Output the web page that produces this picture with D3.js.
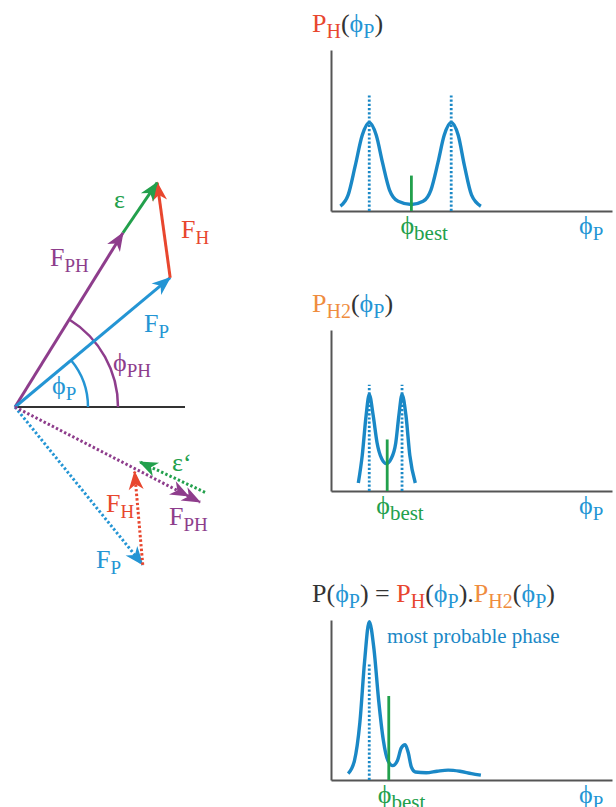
<!DOCTYPE html>
<html>
<head>
<meta charset="utf-8">
<script src="https://cdn.jsdelivr.net/npm/d3@7"></script>
<style>
  html, body { margin: 0; padding: 0; background: #fff; }
  svg { display: block; font-family: "Liberation Serif", "DejaVu Serif", serif; }
</style>
</head>
<body>
<div id="chart"></div>
<script>
// === DATA ===
// structure factor vectors (amplitude, phase in degrees): FP, FPH, FH
const vecNames = ["FP", "FPH", "FH"];
const upperAmp = [10.1, 10.25, 4.8];
const upperPhase = [39.8, 58.2, 97.8];
const lowerAmp = [10.15, 10.4, 4.67];
const lowerPhase = [-51, -27.2, 95];
const arcRadius = [3.65, 5.15]; // phi_P, phi_PH
const baselineLen = 8.5;
const epsOffset = 0.55;

// probability curves: [phase (deg), probability]
const curveH = [[12, 0.03], [22, 0.10], [31, 0.28], [40, 0.47], [49, 0.55], [58, 0.47], [66, 0.30],
  [75, 0.13], [86, 0.06], [103, 0.04], [118, 0.06], [128, 0.13], [137, 0.30], [145, 0.47],
  [154, 0.55], [163, 0.47], [171, 0.28], [180, 0.10], [192, 0.03]];
const curveH2 = [[35, 0.05], [40, 0.22], [45, 0.47], [49, 0.60], [54, 0.47], [59, 0.30], [65, 0.20],
  [71, 0.17], [77, 0.20], [83, 0.30], [87, 0.47], [91, 0.60], [96, 0.47], [101, 0.22], [108, 0.05]];
const curveP = [[22, 0.04], [30, 0.12], [37, 0.36], [43, 0.74], [49, 0.99], [55, 0.82], [61, 0.50],
  [67, 0.25], [73, 0.12], [79, 0.09], [85, 0.12], [90, 0.20], [95, 0.22], [99, 0.17], [103, 0.08],
  [108, 0.05], [122, 0.045], [136, 0.055], [150, 0.062], [165, 0.055], [180, 0.04], [192, 0.03]];

const peaksH = [49, 154], peaksH2 = [49, 91], peaksP = [49];
const peakLineH = [0.73, 0.66, 0.73];
const phiBest = [103, 72, 74];
const phiBestH = [0.22, 0.32, 0.525];

const C = { blue: "#2495d4", red: "#e8462e", purple: "#8e3d8c", green: "#22a04c",
  orange: "#ef8c3e", black: "#333", axis: "#555", curve: "#1a88c6" };

// title pieces: [text, colour, subscript]
const phi = "\u03D5";
const title1 = [["P", "red", 0], ["H", "red", 1], ["(", "black", 0], [phi, "blue", 0], ["P", "blue", 1], [")", "black", 0]];
const title2 = [["P", "orange", 0], ["H2", "orange", 1], ["(", "black", 0], [phi, "blue", 0], ["P", "blue", 1], [")", "black", 0]];
const title3 = [["P(", "black", 0], [phi, "blue", 0], ["P", "blue", 1], [") = ", "black", 0],
  ["P", "red", 0], ["H", "red", 1], ["(", "black", 0], [phi, "blue", 0], ["P", "blue", 1], [").", "black", 0],
  ["P", "orange", 0], ["H2", "orange", 1], ["(", "black", 0], [phi, "blue", 0], ["P", "blue", 1], [")", "black", 0]];

// === SVG ===
const width = 616, height = 807;
const svg = d3.select("#chart").append("svg").attr("width", width).attr("height", height);

const defs = svg.append("defs");
["blue", "red", "purple", "green"].forEach(c => {
  defs.append("marker")
    .attr("id", "arrow-" + c)
    .attr("markerUnits", "userSpaceOnUse")
    .attr("viewBox", "-20 -10 22 20")
    .attr("refX", 0).attr("refY", 0)
    .attr("markerWidth", 22).attr("markerHeight", 20)
    .attr("orient", "auto")
    .append("path")
    .attr("d", "M1,0 L-18,-7.5 L-12.5,0 L-18,7.5 Z")
    .attr("fill", C[c]);
});

// rich text helper (subscripts)
function richText(g, x, y, pieces, size, subSize) {
  const t = g.append("text").attr("x", x).attr("y", y).attr("font-size", size);
  let shifted = false;
  pieces.forEach(([s, col, sub]) => {
    const ts = t.append("tspan").text(s).attr("fill", C[col]);
    if (sub) {
      ts.attr("font-size", subSize);
      if (!shifted) ts.attr("dy", 6);
      shifted = true;
    } else if (shifted) {
      ts.attr("dy", -6);
      shifted = false;
    }
  });
  return t;
}

// === VECTOR DIAGRAM ===
const sx = d3.scaleLinear().domain([0, 10]).range([15, 215]);
const sy = d3.scaleLinear().domain([0, 10]).range([407, 207]);
const rad = d => d * Math.PI / 180;
const pol = (a, p) => [a * Math.cos(rad(p)), a * Math.sin(rad(p))];
const add = (u, v) => [u[0] + v[0], u[1] + v[1]];
const P = v => [sx(v[0]), sy(v[1])];

const diag = svg.append("g");

function arrow(from, to, col, dotted) {
  diag.append("line")
    .attr("x1", P(from)[0]).attr("y1", P(from)[1])
    .attr("x2", P(to)[0]).attr("y2", P(to)[1])
    .attr("stroke", C[col]).attr("stroke-width", 3)
    .attr("stroke-dasharray", dotted ? "2.4 2.2" : null)
    .attr("marker-end", "url(#arrow-" + col + ")");
}

// baseline
diag.append("line")
  .attr("x1", sx(0)).attr("y1", sy(0)).attr("x2", sx(baselineLen)).attr("y2", sy(0))
  .attr("stroke", C.black).attr("stroke-width", 2);

// angle arcs
[[arcRadius[0], upperPhase[0], "blue"], [arcRadius[1], upperPhase[1], "purple"]].forEach(([r, ph, col]) => {
  const p = d3.path();
  const rp = sx(r) - sx(0);
  p.moveTo(sx(0) + rp, sy(0));
  p.arc(sx(0), sy(0), rp, 0, -rad(ph), true);
  diag.append("path").attr("d", p.toString()).attr("fill", "none")
    .attr("stroke", C[col]).attr("stroke-width", 2.5);
});

const O = [0, 0];
const uFP = pol(upperAmp[0], upperPhase[0]);
const uFPH = pol(upperAmp[1], upperPhase[1]);
const uTip = add(uFP, pol(upperAmp[2], upperPhase[2]));
arrow(O, uFPH, "purple");
arrow(O, uFP, "blue");
arrow(uFP, uTip, "red");
arrow(uFPH, uTip, "green");

const lFP = pol(lowerAmp[0], lowerPhase[0]);
const lFPH = pol(lowerAmp[1], lowerPhase[1]);
const lTip = add(lFP, pol(lowerAmp[2], lowerPhase[2]));
arrow(O, lFP, "blue", true);
// FPH' with a doubled arrowhead
const lFPHmid = pol(lowerAmp[1] - 0.65, lowerPhase[1]);
diag.append("path")
  .attr("d", "M" + P(O) + "L" + P(lFPHmid) + "L" + P(lFPH))
  .attr("fill", "none").attr("stroke", C.purple).attr("stroke-width", 3)
  .attr("stroke-dasharray", "2.4 2.2")
  .attr("marker-mid", "url(#arrow-purple)")
  .attr("marker-end", "url(#arrow-purple)");
arrow(lFP, lTip, "red", true);
const off = pol(epsOffset, lowerPhase[1] + 90);
arrow(add(lFPH, off), add(lTip, off), "green", true);

// labels
const lab = (x, y, pieces) => richText(diag, x, y, pieces, 26, 19);
lab(114, 208, [["\u03B5", "green", 0]]);
lab(181, 238, [["F", "red", 0], ["H", "red", 1]]);
lab(50, 266, [["F", "purple", 0], ["PH", "purple", 1]]);
lab(144, 332, [["F", "blue", 0], ["P", "blue", 1]]);
lab(113, 371, [[phi, "purple", 0], ["PH", "purple", 1]]);
lab(52, 394, [[phi, "blue", 0], ["P", "blue", 1]]);
lab(172, 471, [["\u03B5\u2018", "green", 0]]);
lab(106, 512, [["F", "red", 0], ["H", "red", 1]]);
lab(169, 525, [["F", "purple", 0], ["PH", "purple", 1]]);
lab(96, 568, [["F", "blue", 0], ["P", "blue", 1]]);

// === PROBABILITY PANELS ===
const panels = [
  { top: 50, base: 211, curve: curveH, peaks: peaksH, title: title1, titleY: 32 },
  { top: 330, base: 491, curve: curveH2, peaks: peaksH2, title: title2, titleY: 312 },
  { top: 620, base: 780, curve: curveP, peaks: peaksP, title: title3, titleY: 602 }
];

const x = d3.scaleLinear().domain([0, 360]).range([331, 612]);

panels.forEach((pn, i) => {
  const y = d3.scaleLinear().domain([0, 1]).range([pn.base, pn.top]);
  const g = svg.append("g");

  g.append("g").attr("transform", `translate(0,${pn.base})`)
    .call(d3.axisBottom(x).tickValues([]).tickSizeOuter(0))
    .select(".domain").attr("stroke", C.axis).attr("stroke-width", 2);
  g.append("g").attr("transform", `translate(${x(0)},0)`)
    .call(d3.axisLeft(y).tickValues([]).tickSizeOuter(0))
    .select(".domain").attr("stroke", C.axis).attr("stroke-width", 2);

  // dotted peak lines
  g.selectAll(".peak").data(pn.peaks).enter().append("line")
    .attr("x1", d => x(d)).attr("x2", d => x(d))
    .attr("y1", y(0)).attr("y2", y(peakLineH[i]))
    .attr("stroke", C.curve).attr("stroke-width", 2.8).attr("stroke-dasharray", "2.2 2");

  // curve
  g.append("path").datum(pn.curve)
    .attr("d", d3.line().x(d => x(d[0])).y(d => y(d[1])).curve(d3.curveMonotoneX))
    .attr("fill", "none").attr("stroke", C.curve).attr("stroke-width", 3.4);

  // best phase
  g.append("line")
    .attr("x1", x(phiBest[i])).attr("x2", x(phiBest[i]))
    .attr("y1", y(0)).attr("y2", y(phiBestH[i]))
    .attr("stroke", C.green).attr("stroke-width", 2.8);

  richText(g, x(phiBest[i]) - 11, pn.base + 23, [[phi, "green", 0], ["best", "green", 1]], 26, 21);
  richText(g, 579, pn.base + 23, [[phi, "blue", 0], ["P", "blue", 1]], 26, 19);
  richText(g, 312, pn.titleY, pn.title, 26, 20);
});

svg.append("text").attr("x", 387).attr("y", 643)
  .attr("font-size", 21).attr("fill", C.curve)
  .text("most probable phase");
</script>
</body>
</html>
